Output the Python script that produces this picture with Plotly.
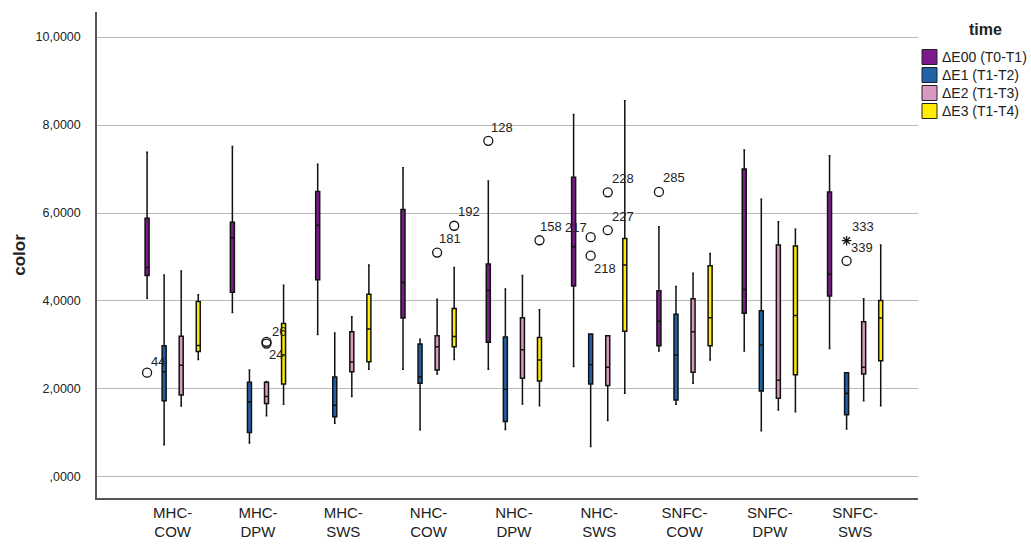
import plotly.graph_objects as go

groups = ["MHC-<br>COW", "MHC-<br>DPW", "MHC-<br>SWS", "NHC-<br>COW", "NHC-<br>DPW",
          "NHC-<br>SWS", "SNFC-<br>COW", "SNFC-<br>DPW", "SNFC-<br>SWS"]

series_names = ["ΔE00 (T0-T1)", "ΔE1 (T1-T2)", "ΔE2 (T1-T3)", "ΔE3 (T1-T4)"]
series_colors = ["#7D1A8B", "#1F62A8", "#D898C0", "#FFEC00"]

# E00
e00_low = [4.06, 3.74, 3.24, 2.45, 2.45, 2.51, 2.86, 2.86, 2.92]
e00_q1 = [4.58, 4.20, 4.48, 3.61, 3.06, 4.34, 2.98, 3.72, 4.11]
e00_med = [4.76, 5.44, 5.72, 4.42, 4.24, 5.23, 3.54, 4.26, 4.61]
e00_q3 = [5.88, 5.79, 6.49, 6.08, 4.84, 6.81, 4.23, 7.00, 6.48]
e00_up = [7.38, 7.51, 7.11, 7.03, 6.73, 8.24, 5.69, 7.43, 7.30]
# E1
e1_low = [0.73, 0.77, 1.22, 1.07, 1.08, 0.69, 1.65, 1.05, 1.09]
e1_q1 = [1.73, 1.01, 1.37, 2.13, 1.26, 2.11, 1.75, 1.95, 1.41]
e1_med = [2.39, 1.70, 1.63, 2.27, 1.99, 2.55, 2.77, 3.00, 1.90]
e1_q3 = [2.98, 2.15, 2.27, 3.02, 3.18, 3.25, 3.70, 3.78, 2.37]
e1_up = [4.59, 2.43, 3.27, 3.13, 4.27, 3.25, 4.33, 6.31, 2.37]
# E2
e2_low = [1.61, 1.39, 1.83, 2.34, 1.66, 1.28, 2.13, 1.52, 1.73]
e2_q1 = [1.86, 1.67, 2.39, 2.43, 2.24, 2.08, 2.38, 1.79, 2.34]
e2_med = [2.54, 1.83, 2.61, 2.96, 2.89, 2.49, 3.30, 2.20, 2.49]
e2_q3 = [3.20, 2.15, 3.30, 3.21, 3.62, 3.21, 4.05, 5.27, 3.53]
e2_up = [4.68, 2.17, 3.64, 4.04, 4.58, 3.21, 4.63, 5.80, 4.05]
# E3
e3_low = [2.67, 1.65, 2.45, 2.67, 1.62, 1.90, 2.66, 1.48, 1.62]
e3_q1 = [2.85, 2.11, 2.62, 2.96, 2.18, 3.31, 2.98, 2.32, 2.64]
e3_med = [2.99, 2.77, 3.36, 3.19, 2.66, 4.82, 3.62, 3.67, 3.61]
e3_q3 = [3.99, 3.49, 4.15, 3.83, 3.17, 5.42, 4.80, 5.25, 4.01]
e3_up = [4.14, 4.36, 4.82, 4.76, 3.80, 8.55, 5.08, 5.63, 5.27]

stats = [
    (e00_low, e00_q1, e00_med, e00_q3, e00_up),
    (e1_low, e1_q1, e1_med, e1_q3, e1_up),
    (e2_low, e2_q1, e2_med, e2_q3, e2_up),
    (e3_low, e3_q1, e3_med, e3_q3, e3_up),
]

# outliers: series index, group index, value, case label, marker
out_series = [0, 2, 2, 2, 3, 0, 3, 1, 1, 2, 2, 0, 1, 1]
out_group = [0, 1, 1, 3, 3, 4, 4, 5, 5, 5, 5, 6, 8, 8]
out_value = [2.37, 3.07, 3.03, 5.10, 5.71, 7.64, 5.38, 5.45, 5.03, 6.47, 5.61, 6.48, 5.37, 4.91]
out_label = ["44", "26", "24", "181", "192", "128", "158", "217", "218", "228", "227", "285", "333", "339"]
out_symbol = ["o", "o", "o", "o", "o", "o", "o", "o", "o", "o", "o", "o", "*", "o"]
# label offsets in pixels (right, up)
out_dx = [11, 12, 9, 13, 15, 14, 12, -15, 14, 15, 15, 15, 16, 15]
out_dy = [11, 10, -11, 14, 14, 13, 14, 10, -13, 14, 14, 14, 14, 13]

offsets = [-0.3, -0.1, 0.1, 0.3]
box_w = 0.047

# plot area in pixels (for legend placement)
L, R, T, B = 97, 918, 12, 498
W, H = 1031, 546


def px(xp):
    return (xp - L) / (R - L)


def py(yp):
    return 1 - (yp - T) / (B - T)


fig = go.Figure()

for s in range(4):
    low, q1, med, q3, up = stats[s]
    fig.add_trace(go.Box(
        x=[g + offsets[s] for g in range(len(groups))],
        lowerfence=low, q1=q1, median=med, q3=q3, upperfence=up,
        width=box_w, whiskerwidth=0.45,
        fillcolor=series_colors[s],
        line=dict(color="#111111", width=1.5),
        boxpoints=False, showlegend=False, hoverinfo="skip",
        name=series_names[s],
    ))

for sym in ["o", "*"]:
    xs, ys = [], []
    for i in range(len(out_value)):
        if out_symbol[i] == sym:
            xs.append(out_group[i] + offsets[out_series[i]])
            ys.append(out_value[i])
    fig.add_trace(go.Scatter(
        x=xs, y=ys, mode="markers", showlegend=False, hoverinfo="skip",
        marker=dict(symbol="circle-open" if sym == "o" else "asterisk-open",
                    size=9 if sym == "o" else 8,
                    color="#111111", line=dict(width=1.3, color="#111111")),
    ))

for i in range(len(out_value)):
    fig.add_annotation(
        x=out_group[i] + offsets[out_series[i]], y=out_value[i],
        text=out_label[i], showarrow=False,
        xshift=out_dx[i], yshift=out_dy[i],
        font=dict(family="Liberation Sans, Arial", size=13, color="#222222"),
    )

# legend (drawn manually to match SPSS layout)
fig.add_annotation(
    xref="paper", yref="paper", x=px(985), y=py(30), text="<b>time</b>",
    showarrow=False, xanchor="center", yanchor="middle",
    font=dict(family="Liberation Sans, Arial", size=16, color="#222222"),
)
for s in range(4):
    cy = 57 + 18 * s
    fig.add_shape(
        type="rect", xref="paper", yref="paper",
        x0=px(922), x1=px(937), y0=py(cy + 7.5), y1=py(cy - 7.5),
        fillcolor=series_colors[s], line=dict(color="#222222", width=1),
    )
    fig.add_annotation(
        xref="paper", yref="paper", x=px(940), y=py(cy), text=series_names[s],
        showarrow=False, xanchor="left", yanchor="middle",
        font=dict(family="Liberation Sans, Arial", size=14, color="#222222"),
    )

ytick_vals = [0, 2, 4, 6, 8, 10]
ytick_text = [",0000", "2,0000", "4,0000", "6,0000", "8,0000", "10,0000"]

fig.update_layout(
    width=W, height=H,
    margin=dict(l=L, r=W - R, t=T, b=H - B),
    paper_bgcolor="white", plot_bgcolor="white",
    font=dict(family="Liberation Sans, Arial", color="#222222"),
    showlegend=False,
    xaxis=dict(
        range=[-0.887, 8.737],
        tickvals=list(range(len(groups))), ticktext=groups,
        tickfont=dict(size=15, color="#222222"),
        showgrid=False, zeroline=False,
        showline=True, linecolor="#555555", linewidth=1.5,
        ticks="",
        automargin=False,
    ),
    yaxis=dict(
        range=[-0.48, 10.57],
        tickvals=ytick_vals, ticktext=ytick_text,
        tickfont=dict(size=12.5, color="#222222"),
        showgrid=True, gridcolor="#B8B8B8", gridwidth=1.3,
        zeroline=False,
        showline=True, linecolor="#555555", linewidth=1.5,
        ticks="outside", ticklen=12, tickcolor="white",
        title=dict(text="<b>color</b>", font=dict(size=17, color="#222222"), standoff=6),
        automargin=False,
    ),
)

fig.write_html("out.html")
